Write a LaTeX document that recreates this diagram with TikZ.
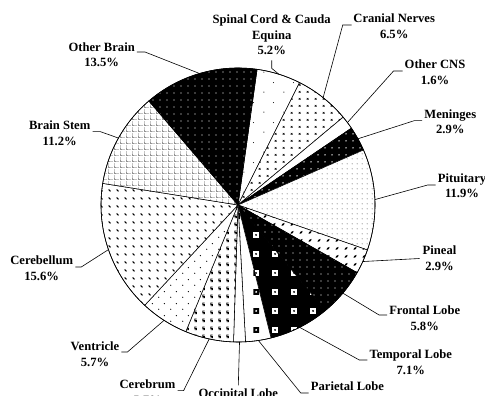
\documentclass[tikz,border=0pt]{standalone}
\usepackage{fontspec}
\setmainfont{Liberation Serif}
\usetikzlibrary{patterns}

\pgfdeclarepatternformonly{spinaldots}{\pgfqpoint{0pt}{0pt}}{\pgfqpoint{20pt}{20pt}}{\pgfqpoint{20pt}{20pt}}{%
  \pgfpathcircle{\pgfqpoint{4pt}{4pt}}{0.6pt}%
  \pgfpathcircle{\pgfqpoint{14pt}{14pt}}{0.6pt}%
  \pgfusepath{fill}}
\pgfdeclarepatternformonly{xmarks}{\pgfqpoint{0pt}{0pt}}{\pgfqpoint{8pt}{7pt}}{\pgfqpoint{8pt}{7pt}}{%
  \pgfsetlinewidth{0.55pt}%
  \pgfpathmoveto{\pgfqpoint{3pt}{2.5pt}}\pgfpathlineto{\pgfqpoint{5pt}{4.5pt}}%
  \pgfpathmoveto{\pgfqpoint{3pt}{4.5pt}}\pgfpathlineto{\pgfqpoint{5pt}{2.5pt}}%
  \pgfusepath{stroke}}
\pgfdeclarepatternformonly{dotsA}{\pgfqpoint{0pt}{0pt}}{\pgfqpoint{7pt}{7pt}}{\pgfqpoint{7pt}{7pt}}{%
  \pgfpathcircle{\pgfqpoint{3.5pt}{3.5pt}}{0.85pt}\pgfusepath{fill}}
\pgfdeclarepatternformonly{dotsB}{\pgfqpoint{0pt}{0pt}}{\pgfqpoint{5pt}{5pt}}{\pgfqpoint{5pt}{5pt}}{%
  \pgfpathcircle{\pgfqpoint{2.5pt}{2.5pt}}{0.5pt}\pgfusepath{fill}}
\pgfdeclarepatternformonly{dotsC}{\pgfqpoint{0pt}{0pt}}{\pgfqpoint{6.5pt}{6.5pt}}{\pgfqpoint{6.5pt}{6.5pt}}{%
  \pgfpathcircle{\pgfqpoint{3.25pt}{3.25pt}}{0.7pt}\pgfusepath{fill}}
\pgfdeclarepatternformonly{ventdots}{\pgfqpoint{0pt}{0pt}}{\pgfqpoint{12pt}{12pt}}{\pgfqpoint{12pt}{12pt}}{%
  \pgfpathcircle{\pgfqpoint{3pt}{3pt}}{0.7pt}%
  \pgfpathcircle{\pgfqpoint{9pt}{9pt}}{0.7pt}\pgfusepath{fill}}
\pgfdeclarepatternformonly{pinealmarks}{\pgfqpoint{0pt}{0pt}}{\pgfqpoint{9pt}{8pt}}{\pgfqpoint{9pt}{8pt}}{%
  \pgfsetlinewidth{0.5pt}%
  \pgfpathcircle{\pgfqpoint{4.5pt}{4pt}}{1pt}%
  \pgfpathmoveto{\pgfqpoint{3pt}{2.5pt}}\pgfpathlineto{\pgfqpoint{6pt}{5.5pt}}%
  \pgfusepath{stroke}}
\pgfdeclarepatternformonly{cerebmarks}{\pgfqpoint{0pt}{0pt}}{\pgfqpoint{8pt}{8pt}}{\pgfqpoint{8pt}{8pt}}{%
  \pgfsetlinewidth{0.8pt}%
  \pgfpathmoveto{\pgfqpoint{5.2pt}{5.5pt}}\pgfpathlineto{\pgfqpoint{3pt}{5.5pt}}%
  \pgfpathlineto{\pgfqpoint{3pt}{4pt}}\pgfpathlineto{\pgfqpoint{5pt}{4pt}}%
  \pgfpathlineto{\pgfqpoint{5pt}{2.5pt}}\pgfpathlineto{\pgfqpoint{2.8pt}{2.5pt}}%
  \pgfusepath{stroke}}
\pgfdeclarepatternformonly{bellmarks}{\pgfqpoint{0pt}{0pt}}{\pgfqpoint{7.5pt}{7.5pt}}{\pgfqpoint{7.5pt}{7.5pt}}{%
  \pgfsetlinewidth{1.1pt}%
  \pgfpathmoveto{\pgfqpoint{2.8pt}{4.7pt}}\pgfpathlineto{\pgfqpoint{4.7pt}{2.8pt}}%
  \pgfusepath{stroke}}
\pgfdeclarepatternformonly{gridots}{\pgfqpoint{0pt}{0pt}}{\pgfqpoint{6pt}{6pt}}{\pgfqpoint{6pt}{6pt}}{%
  \pgfpathrectangle{\pgfqpoint{0pt}{0pt}}{\pgfqpoint{0.7pt}{0.7pt}}%
  \pgfpathrectangle{\pgfqpoint{1.5pt}{0pt}}{\pgfqpoint{0.7pt}{0.7pt}}%
  \pgfpathrectangle{\pgfqpoint{3pt}{0pt}}{\pgfqpoint{0.7pt}{0.7pt}}%
  \pgfpathrectangle{\pgfqpoint{4.5pt}{0pt}}{\pgfqpoint{0.7pt}{0.7pt}}%
  \pgfpathrectangle{\pgfqpoint{0pt}{1.5pt}}{\pgfqpoint{0.7pt}{0.7pt}}%
  \pgfpathrectangle{\pgfqpoint{0pt}{3pt}}{\pgfqpoint{0.7pt}{0.7pt}}%
  \pgfpathrectangle{\pgfqpoint{0pt}{4.5pt}}{\pgfqpoint{0.7pt}{0.7pt}}%
  \pgfusepath{fill}}
\pgfdeclarepatternformonly{bigsq}{\pgfqpoint{0pt}{0pt}}{\pgfqpoint{19pt}{19pt}}{\pgfqpoint{19pt}{19pt}}{%
  \pgfpathrectangle{\pgfqpoint{6.5pt}{6.5pt}}{\pgfqpoint{6pt}{6pt}}\pgfusepath{fill}}
\pgfdeclarepatternformonly{bigdot}{\pgfqpoint{0pt}{0pt}}{\pgfqpoint{19pt}{19pt}}{\pgfqpoint{19pt}{19pt}}{%
  \pgfpathcircle{\pgfqpoint{9.5pt}{9.5pt}}{1.1pt}\pgfusepath{fill}}

\newcommand\pieslice[3]{\path[#3, draw=black, line width=0.55pt] (0,0) -- (#1:137) arc[start angle=#1, end angle=#2, radius=137] -- cycle;}

\begin{document}
\begin{tikzpicture}[x=1pt,y=1pt,
  lbl/.style={font=\fontsize{12.6}{15.5}\selectfont\bfseries, align=center, inner sep=0pt, anchor=north},
  lead/.style={line width=0.6pt},
  whitepat/.style={preaction={fill=white}, pattern=#1, pattern color=black},
  blackpat/.style={preaction={fill=black}, pattern=#1, pattern color=white},
  squarepat/.style n args={2}{preaction={fill=#1}, preaction={pattern=bigsq, pattern color=#2}, pattern=bigdot, pattern color=#1}]
\path[use as bounding box, clip] (0,0) rectangle (485,396);
\fill[white] (0,0) rectangle (485,396);

\begin{scope}[shift={(238,191)}]
  \pieslice{82}{63.28}{whitepat=spinaldots}
  \pieslice{63.28}{39.88}{whitepat=xmarks}
  \pieslice{39.88}{34.12}{fill=white}
  \pieslice{34.12}{23.68}{blackpat=dotsA}
  \pieslice{23.68}{-19.16}{whitepat=dotsB}
  \pieslice{-19.16}{-29.6}{whitepat=pinealmarks}
  \pieslice{-29.6}{-50.48}{blackpat=dotsC}
  \pieslice{-50.48}{-76.04}{squarepat={black}{white}}
  \pieslice{-76.04}{-86.84}{squarepat={white}{black}}
  \pieslice{-86.84}{-91.88}{fill=white}
  \pieslice{-91.88}{-112.4}{whitepat=cerebmarks}
  \pieslice{-112.4}{-132.92}{whitepat=ventdots}
  \pieslice{-132.92}{-189.08}{whitepat=bellmarks}
  \pieslice{-189.08}{-229.4}{whitepat=gridots}
  \pieslice{-229.4}{-278}{blackpat=dotsC}
  \draw[line width=0.6pt] (0,0) circle[radius=137];

  \coordinate (pSC) at (72.64:137);
  \coordinate (pCN) at (51.58:137);
  \coordinate (pOC) at (37.0:137);
  \coordinate (pME) at (28.9:137);
  \coordinate (pPI) at (2.26:137);
  \coordinate (pPN) at (-24.38:137);
  \coordinate (pFL) at (-40.04:137);
  \coordinate (pTL) at (-63.26:137);
  \coordinate (pPL) at (-81.44:137);
  \coordinate (pOL) at (-89.36:137);
  \coordinate (pCR) at (-102.14:137);
  \coordinate (pVE) at (-122.66:137);
  \coordinate (pCB) at (-161.0:137);
  \coordinate (pBS) at (150.76:137);
  \coordinate (pOB) at (106.3:137);
\end{scope}

\node[lbl] (sc) at (271.7,381) {Spinal Cord \& Cauda\\Equina\\5.2\%};
\node[lbl] (cn) at (394.2,382) {Cranial Nerves\\6.5\%};
\node[lbl] (ob) at (101.7,353.7) {Other Brain\\13.5\%};
\node[lbl] (oc) at (435,336) {Other CNS\\1.6\%};
\node[lbl] (me) at (450.3,286.7) {Meninges\\2.9\%};
\node[lbl] (bs) at (59.7,275.3) {Brain Stem\\11.2\%};
\node[lbl] (pi) at (462,222.7) {Pituitary\\11.9\%};
\node[lbl] (pn) at (439.5,150) {Pineal\\2.9\%};
\node[lbl] (cb) at (41.7,140) {Cerebellum\\15.6\%};
\node[lbl] (fl) at (424.7,90) {Frontal Lobe\\5.8\%};
\node[lbl] (ve) at (95,54.3) {Ventricle\\5.7\%};
\node[lbl] (tl) at (410.8,46) {Temporal Lobe\\7.1\%};
\node[lbl] (cr) at (147.5,16) {Cerebrum\\5.7\%};
\node[lbl] (pl) at (347.5,14.3) {Parietal Lobe\\3.0\%};
\node[lbl] (ol) at (238.3,7.7) {Occipital Lobe\\1.4\%};

\draw[lead] ([yshift=-5pt]sc.south) -- ++(0,-8) -- (pSC);
\draw[lead] ([shift={(-1.5,-11)}]cn.north west) -- ++(-9,0) -- (pCN);
\draw[lead] ([shift={(-2,-11)}]oc.north west) -- ++(-9,0) -- (pOC);
\draw[lead] ([shift={(-2,-11.4)}]me.north west) -- ++(-8,0) -- (pME);
\draw[lead] ([shift={(-2,-11.7)}]pi.north west) -- ++(-8,0) -- (pPI);
\draw[lead] ([shift={(-3,-12.5)}]pn.north west) -- (pPN);
\draw[lead] ([shift={(-2,-9)}]fl.north west) -- ++(-8,0) -- (pFL);
\draw[lead] ([shift={(-2,-10)}]tl.north west) -- ++(-8,0) -- (pTL);
\draw[lead] ([shift={(-2,-11.3)}]pl.north west) -- ++(-8,0) -- (pPL);
\draw[lead] ([yshift=3pt]ol.north) -- (pOL);
\draw[lead] ([shift={(2,-10.7)}]cr.north east) -- ++(6,0) -- (pCR);
\draw[lead] ([shift={(2,-10.3)}]ve.north east) -- ++(6,0) -- (pVE);
\draw[lead] ([shift={(2,-11)}]cb.north east) -- ++(6,0) -- (pCB);
\draw[lead] ([shift={(2,-11)}]bs.north east) -- ++(8,0) -- (pBS);
\draw[lead] ([shift={(2,-9.7)}]ob.north east) -- ++(8,0) -- (pOB);
\end{tikzpicture}
\end{document}
